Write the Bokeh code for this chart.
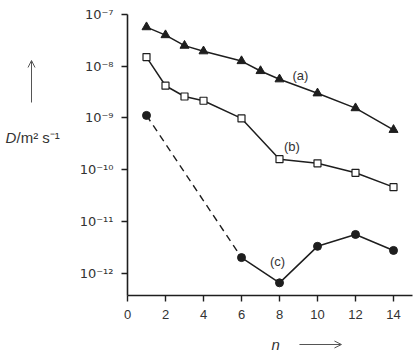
from bokeh.plotting import figure
from bokeh.layouts import row, column
from bokeh.models import (FixedTicker, CustomJSTickFormatter, Label, Arrow, OpenHead,
                          Range1d)
from bokeh.embed import file_html
from bokeh.resources import INLINE

# ---- data ----
n_a = [1, 2, 3, 4, 6, 7, 8, 10, 12, 14]
D_a = [5.7e-8, 4.0e-8, 2.5e-8, 1.95e-8, 1.26e-8, 8.1e-9, 5.6e-9, 3.0e-9, 1.55e-9, 5.9e-10]

n_b = [1, 2, 3, 4, 6, 8, 10, 12, 14]
D_b = [1.5e-8, 4.2e-9, 2.6e-9, 2.15e-9, 9.8e-10, 1.6e-10, 1.33e-10, 8.7e-11, 4.6e-11]

n_c = [1, 6, 8, 10, 12, 14]
D_c = [1.12e-9, 2.0e-12, 6.5e-13, 3.3e-12, 5.6e-12, 2.75e-12]

x_ticks = [0, 2, 4, 6, 8, 10, 12, 14]
y_ticks = [1e-12, 1e-11, 1e-10, 1e-9, 1e-8, 1e-7]

series_labels = ["(a)", "(b)", "(c)"]
label_n = [9.1, 8.65, 7.9]
label_D = [6.5e-9, 2.8e-10, 1.65e-12]

INK = "#1e1e1e"
TXT = "#333333"
FONT = "Liberation Sans"


def bare(fig):
    fig.outline_line_color = None
    fig.xgrid.visible = False
    fig.ygrid.visible = False
    fig.axis.visible = False
    fig.background_fill_color = "white"
    fig.border_fill_color = "white"


x_range = Range1d(0, 15)

# ---- main plot ----
p = figure(width=350, height=325, y_axis_type="log",
           x_range=x_range, y_range=Range1d(3.7e-13, 1e-7),
           output_backend="svg", toolbar_location=None,
           min_border_left=57, min_border_right=8,
           min_border_top=14, min_border_bottom=30)
p.outline_line_color = None
p.xgrid.visible = False
p.ygrid.visible = False
p.background_fill_color = "white"
p.border_fill_color = "white"

for ax in (p.xaxis[0], p.yaxis[0]):
    ax.axis_line_color = INK
    ax.axis_line_width = 1.6
    ax.major_tick_line_color = INK
    ax.major_tick_line_width = 1.4
    ax.major_tick_in = 0
    ax.major_tick_out = 6
    ax.minor_tick_line_color = None
    ax.major_label_text_font = FONT
    ax.major_label_text_font_size = "13px"
    ax.major_label_text_color = TXT
    ax.major_label_standoff = 8

p.yaxis.major_label_text_font = "DejaVu Sans"
p.yaxis.major_label_text_font_size = "13px"
p.yaxis.major_label_standoff = 8

p.xaxis.ticker = FixedTicker(ticks=x_ticks)
p.yaxis.ticker = FixedTicker(ticks=y_ticks)
p.yaxis.formatter = CustomJSTickFormatter(code="""
const sup = {"-":"\\u207B","0":"\\u2070","1":"\\u00B9","2":"\\u00B2","3":"\\u00B3",
             "4":"\\u2074","5":"\\u2075","6":"\\u2076","7":"\\u2077","8":"\\u2078","9":"\\u2079"};
const e = Math.round(Math.log10(tick));
return "10" + String(e).split("").map(c => sup[c]).join("");
""")

# series (a)
p.line(n_a, D_a, line_color=INK, line_width=1.5)
p.scatter(n_a, D_a, marker="triangle", size=9, fill_color=INK, line_color=INK)

# series (b)
p.line(n_b, D_b, line_color=INK, line_width=1.5)
p.scatter(n_b, D_b, marker="square", size=7, fill_color="white", line_color=INK, line_width=1.2)

# series (c): dashed first segment, solid afterwards
p.line(n_c[:2], D_c[:2], line_color=INK, line_width=1.4, line_dash="7 5")
p.line(n_c[1:], D_c[1:], line_color=INK, line_width=1.5)
p.scatter(n_c, D_c, marker="circle", size=8, fill_color=INK, line_color=INK)

for t, xn, yd in zip(series_labels, label_n, label_D):
    p.add_layout(Label(x=xn, y=yd, text=t, text_font=FONT, text_font_size="13px",
                       text_color=TXT, text_align="center", text_baseline="middle"))

# ---- left strip: y quantity label with arrow (coordinates in strip pixels) ----
left = figure(width=70, height=355, x_range=Range1d(0, 70), y_range=Range1d(0, 355),
              output_backend="svg", toolbar_location=None,
              min_border=0)
bare(left)
left.add_layout(Label(x=5, y=218, text="D", text_font=FONT, text_font_style="italic",
                      text_font_size="15px", text_color=TXT, text_baseline="middle"))
left.add_layout(Label(x=16, y=218, text="/m\u00b2 s\u207b\u00b9", text_font=FONT,
                      text_font_size="15px", text_color=TXT, text_baseline="middle"))
left.add_layout(Arrow(x_start=31, y_start=253, x_end=31, y_end=295,
                      line_color="#555555", line_width=1,
                      end=OpenHead(size=7, line_color="#555555", line_width=1)))

# ---- bottom strip: n label with arrow (shares the n scale) ----
bottom = figure(width=350, height=30, x_range=x_range, y_range=Range1d(0, 30),
                output_backend="svg", toolbar_location=None,
                min_border_left=57, min_border_right=8, min_border_top=0, min_border_bottom=0)
bare(bottom)
bottom.add_layout(Label(x=7.8, y=11, text="n", text_font=FONT, text_font_style="italic",
                        text_font_size="15px", text_color=TXT, text_align="center",
                        text_baseline="middle"))
bottom.add_layout(Arrow(x_start=9.05, y_start=11, x_end=11.26, y_end=11,
                        line_color="#555555", line_width=1,
                        end=OpenHead(size=7, line_color="#555555", line_width=1)))

layout = row(left, column(p, bottom, spacing=0), spacing=0)

open("out.html", "w").write(file_html(layout, INLINE))
